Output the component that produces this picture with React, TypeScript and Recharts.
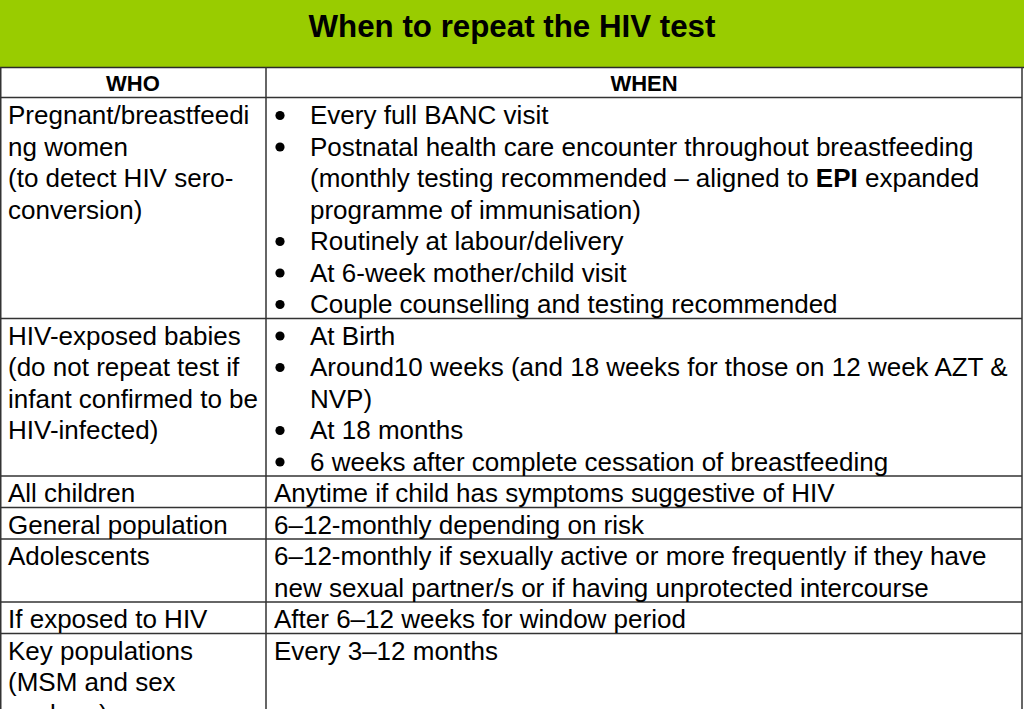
import React from "react";
import { ComposedChart, XAxis, YAxis, Scatter, ReferenceLine, ReferenceArea } from "recharts";

// ---- content ----
const title = "When to repeat the HIV test";
const columnHeaders = ["WHO", "WHEN"];

const whoRows: string[][] = [
  ["Pregnant/breastfeedi", "ng women", "(to detect HIV sero-", "conversion)"],
  ["HIV-exposed babies", "(do not repeat test if", "infant confirmed to be", "HIV-infected)"],
  ["All children"],
  ["General population"],
  ["Adolescents"],
  ["If exposed to HIV"],
  ["Key populations", "(MSM and sex", "workers)"],
];

type WhenItem = { bullet: boolean; lines: string[] };

const whenRows: WhenItem[][] = [
  [
    { bullet: true, lines: ["Every full BANC visit"] },
    {
      bullet: true,
      lines: [
        "Postnatal health care encounter throughout breastfeeding",
        "(monthly testing recommended – aligned to **EPI** expanded",
        "programme of immunisation)",
      ],
    },
    { bullet: true, lines: ["Routinely at labour/delivery"] },
    { bullet: true, lines: ["At 6-week mother/child visit"] },
    { bullet: true, lines: ["Couple counselling and testing recommended"] },
  ],
  [
    { bullet: true, lines: ["At Birth"] },
    { bullet: true, lines: ["Around10 weeks (and 18 weeks for those on 12 week AZT &", "NVP)"] },
    { bullet: true, lines: ["At 18 months"] },
    { bullet: true, lines: ["6 weeks after complete cessation of breastfeeding"] },
  ],
  [{ bullet: false, lines: ["Anytime if child has symptoms suggestive of HIV"] }],
  [{ bullet: false, lines: ["6–12-monthly depending on risk"] }],
  [
    {
      bullet: false,
      lines: [
        "6–12-monthly if sexually active or more frequently if they have",
        "new sexual partner/s or if having unprotected intercourse",
      ],
    },
  ],
  [{ bullet: false, lines: ["After 6–12 weeks for window period"] }],
  [{ bullet: false, lines: ["Every 3–12 months"] }],
];

// ---- layout ----
const W = 1024;
const H = 709;
const FONT = "'Liberation Sans', Arial, Helvetica, sans-serif";
const FIRST_BASELINE = 124;
const LINE_H = 31.5;
const COL_X = 266;
const RIGHT_X = 1022;
const HEADER_BOTTOM = 67;
const SUBHEAD_LINE = 97.5;
const LINE_COLOR = "#333333";

type TextItem = {
  x: number;
  y: number;
  text: string;
  size: number;
  weight: string | number;
  anchor: "start" | "middle" | "end";
  kind: "text" | "bullet";
};

const texts: TextItem[] = [];
const hLines: number[] = [SUBHEAD_LINE];

texts.push({ x: 512, y: 37, text: title, size: 31.3, weight: "bold", anchor: "middle", kind: "text" });
texts.push({ x: COL_X / 2, y: 91, text: columnHeaders[0], size: 22, weight: "bold", anchor: "middle", kind: "text" });
texts.push({ x: (COL_X + RIGHT_X) / 2, y: 91, text: columnHeaders[1], size: 22, weight: "bold", anchor: "middle", kind: "text" });

let lineIdx = 0;
whoRows.forEach((who, r) => {
  who.forEach((t, j) => {
    texts.push({ x: 8, y: FIRST_BASELINE + LINE_H * (lineIdx + j), text: t, size: 26, weight: "normal", anchor: "start", kind: "text" });
  });
  let k = 0;
  whenRows[r].forEach((item) => {
    item.lines.forEach((t, j) => {
      const y = FIRST_BASELINE + LINE_H * (lineIdx + k);
      if (item.bullet && j === 0) {
        texts.push({ x: 280, y, text: "•", size: 26, weight: "normal", anchor: "middle", kind: "bullet" });
      }
      texts.push({ x: item.bullet ? 310 : 274, y, text: t, size: 26, weight: "normal", anchor: "start", kind: "text" });
      k++;
    });
  });
  const count = Math.max(who.length, k);
  lineIdx += count;
  hLines.push(FIRST_BASELINE + LINE_H * (lineIdx - 1) + 5.5);
});

const renderRich = (s: string) => {
  const parts = s.split(/\*\*(.+?)\*\*/);
  return parts.map((p, i) =>
    i % 2 === 1 ? (
      <tspan key={i} fontWeight="bold">
        {p}
      </tspan>
    ) : (
      <tspan key={i}>{p}</tspan>
    )
  );
};

const TextShape = (props: any) => {
  const { cx, cy, payload } = props;
  if (cx == null || cy == null || !payload) return <g />;
  if (payload.kind === "bullet") {
    return <circle cx={cx} cy={cy - 8.5} r={4.6} fill="#000" />;
  }
  return (
    <text
      x={cx}
      y={cy}
      fontSize={payload.size}
      fontWeight={payload.weight}
      textAnchor={payload.anchor}
      fontFamily={FONT}
      fill="#000"
      style={{ whiteSpace: "pre" }}
    >
      {renderRich(payload.text)}
    </text>
  );
};

export default function App() {
  return (
    <div style={{ position: "absolute", left: 0, top: 0, width: W, height: H, background: "#fff" }}>
      <ComposedChart width={W} height={H} margin={{ top: 0, right: 0, bottom: 0, left: 0 }} data={texts}>
        <XAxis type="number" dataKey="x" domain={[0, W]} hide allowDataOverflow />
        <YAxis type="number" dataKey="y" domain={[0, H]} reversed hide allowDataOverflow />
        <ReferenceArea x1={0} x2={W} y1={0} y2={HEADER_BOTTOM} fill="#99CC00" fillOpacity={1} stroke="none" ifOverflow="visible" />
        <ReferenceLine segment={[{ x: 0, y: HEADER_BOTTOM + 0.5 }, { x: W, y: HEADER_BOTTOM + 0.5 }]} stroke="#2a2a2a" strokeWidth={1.5} ifOverflow="visible" />
        {hLines.map((y, i) => (
          <ReferenceLine key={"h" + i} segment={[{ x: 0, y }, { x: RIGHT_X, y }]} stroke={LINE_COLOR} strokeWidth={1.5} ifOverflow="visible" />
        ))}
        <ReferenceLine segment={[{ x: COL_X, y: HEADER_BOTTOM }, { x: COL_X, y: H }]} stroke={LINE_COLOR} strokeWidth={1.5} ifOverflow="visible" />
        <ReferenceLine segment={[{ x: RIGHT_X, y: HEADER_BOTTOM }, { x: RIGHT_X, y: H }]} stroke={LINE_COLOR} strokeWidth={1.5} ifOverflow="visible" />
        <ReferenceLine segment={[{ x: 0.75, y: HEADER_BOTTOM }, { x: 0.75, y: H }]} stroke={LINE_COLOR} strokeWidth={1.5} ifOverflow="visible" />
        <Scatter data={texts} dataKey="y" shape={TextShape} isAnimationActive={false} />
      </ComposedChart>
    </div>
  );
}
